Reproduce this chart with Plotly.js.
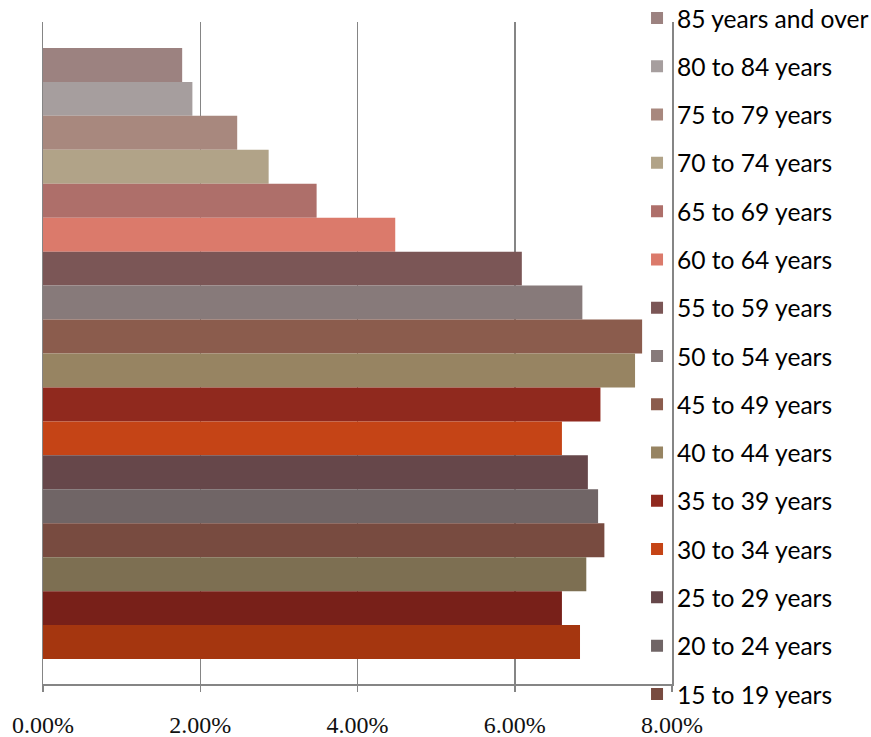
<!DOCTYPE html>
<html>
<head>
<meta charset="utf-8">
<script src="https://cdn.plot.ly/plotly-3.0.1.min.js"></script>
<style>html,body{margin:0;padding:0;background:#fff;}#chart{width:871px;height:737px;}</style>
</head>
<body>
<div id="chart"></div>
<script>
// Age groups, top of chart to bottom
var ageGroups = ["85 years and over","80 to 84 years","75 to 79 years","70 to 74 years","65 to 69 years",
  "60 to 64 years","55 to 59 years","50 to 54 years","45 to 49 years","40 to 44 years","35 to 39 years",
  "30 to 34 years","25 to 29 years","20 to 24 years","15 to 19 years","10 to 14 years","5 to 9 years","Under 5 years"];
// Share of population (fraction)
var shares = [0.0177,0.0190,0.0247,0.0287,0.0348,0.0448,0.0609,0.0686,0.0762,0.0753,0.0709,
  0.0660,0.0693,0.0706,0.0714,0.0691,0.0660,0.0683];
var barColors = ["#9c8280","#a69e9e","#a8887e","#b1a388","#ae6f6a","#db7a6b","#7b5656","#877a7a",
  "#8b5c4d","#978462","#90291e","#c54416","#66474a","#706566","#784b40","#7d6f52","#782019","#a5360f"];
var legendCount = 15; // entries visible in the reference legend
var xTicks = [0, 0.02, 0.04, 0.06, 0.08];

var traces = ageGroups.map(function(g, i){
  return {
    type: "bar", orientation: "h",
    y: [g], x: [shares[i]], name: g,
    width: 1,
    marker: {color: barColors[i], line: {width: 0}},
    legendgroup: "g" + i,
    showlegend: i < legendCount,
    hoverinfo: "x+name"
  };
});

var layout = {
  width: 871, height: 737,
  margin: {l: 43, r: 199, t: 22, b: 53, autoexpand: false},
  paper_bgcolor: "#ffffff", plot_bgcolor: "#ffffff",
  barmode: "overlay",
  showlegend: true,
  xaxis: {
    range: [0, 0.08], tickvals: xTicks, tickformat: ".2%",
    showgrid: true, gridcolor: "#858585", gridwidth: 1.5,
    zeroline: false,
    showline: true, linecolor: "#858585", linewidth: 1.5,
    ticks: "outside", ticklen: 6, tickwidth: 1.5, tickcolor: "#858585",
    ticklabelstandoff: 13,
    tickfont: {family: "Liberation Serif, Times New Roman, serif", size: 24, color: "#111"}
  },
  yaxis: {
    type: "category", categoryorder: "array", categoryarray: ageGroups,
    range: [ageGroups.length - 0.5 + 0.735, -1.265],
    showticklabels: false, ticks: "", showgrid: false, zeroline: false,
    showline: true, mirror: true, linecolor: "#858585", linewidth: 1.5
  },
  legend: {
    x: 0.9444, xanchor: "left", y: 1.04, yanchor: "top",
    bgcolor: "rgba(0,0,0,0)", borderwidth: 0,
    maxheight: 760,
    traceorder: "grouped", tracegroupgap: 13.3,
    font: {family: "Lato, Open Sans, sans-serif", size: 24.6, color: "#000"}
  }
};

Plotly.newPlot("chart", traces, layout, {displayModeBar: false, staticPlot: true});
</script>
</body>
</html>
